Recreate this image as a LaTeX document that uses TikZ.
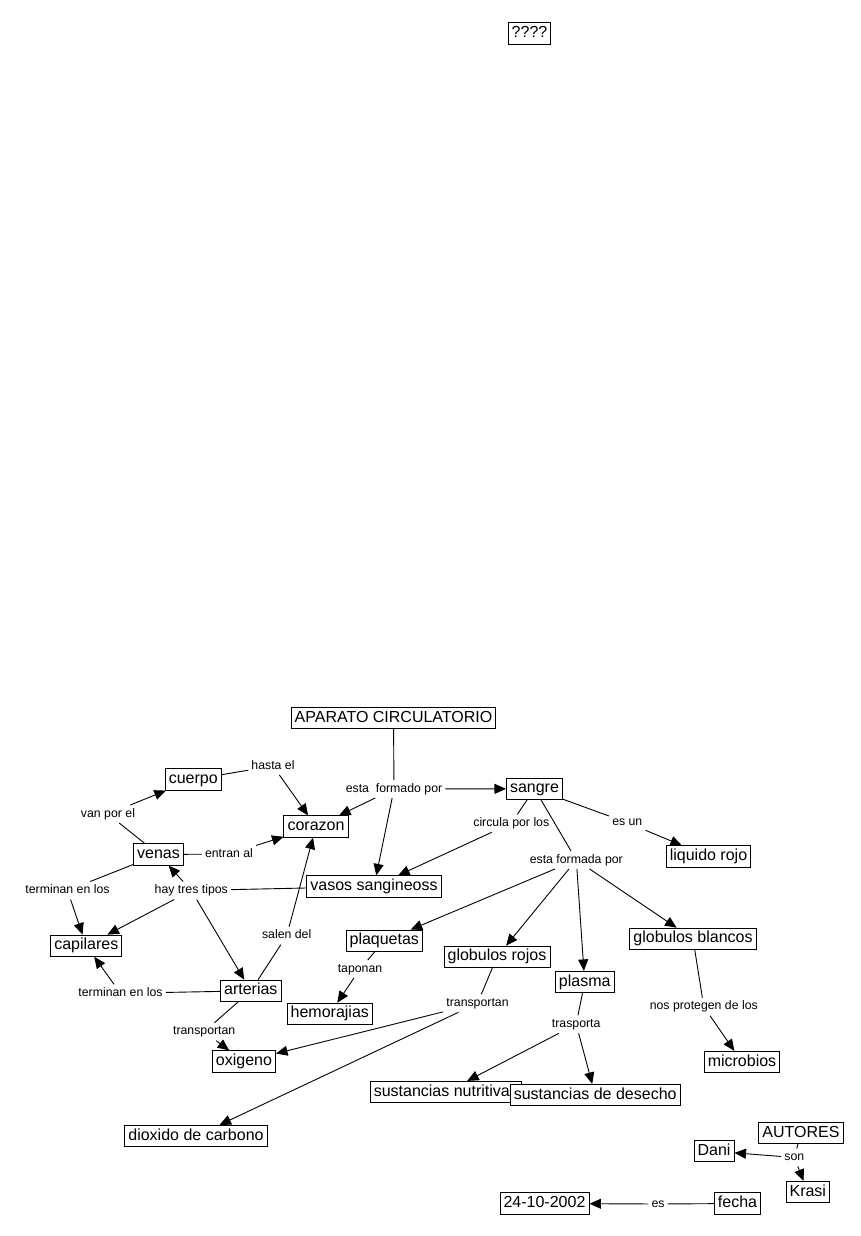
\documentclass[tikz,border=0pt]{standalone}
\usepackage{fontspec}
\setmainfont{Liberation Sans}
\usetikzlibrary{arrows.meta}
\begin{document}
\begin{tikzpicture}[x=1pt,y=-1pt,
  concept/.style={draw, fill=white, line width=0.9pt, inner xsep=3.6pt, inner ysep=3pt,
    font=\fontsize{16}{18}\selectfont, text height=11.8pt, text depth=3.5pt},
  lab/.style={inner xsep=3pt, inner ysep=3pt, font=\fontsize{12.3}{14}\selectfont,
    text height=9pt, text depth=2.6pt},
  conn/.style={line width=0.9pt},
  arr/.style={line width=0.9pt, -{Triangle[length=11.5pt,width=10pt]}}]
\useasboundingbox (0,0) rectangle (861,1236);
% concepts
\node[concept] (q) at (529.5,33.5) {????};
\node[concept] (aparato) at (393.5,718) {APARATO CIRCULATORIO};
\node[concept] (sangre) at (534.5,788.8) {sangre};
\node[concept] (cuerpo) at (193.3,779.5) {cuerpo};
\node[concept] (corazon) at (316,826.5) {corazon};
\node[concept] (venas) at (158.5,854.5) {venas};
\node[concept] (liquido) at (708.5,856.5) {liquido rojo};
\node[concept] (vasos) at (374,886.5) {vasos sangineoss};
\node[concept] (capilares) at (86.3,945.7) {capilares};
\node[concept] (plaquetas) at (384.3,940.7) {plaquetas};
\node[concept] (gblancos) at (693,938.8) {globulos blancos};
\node[concept] (grojos) at (497,956.8) {globulos rojos};
\node[concept] (plasma) at (584.7,982) {plasma};
\node[concept] (arterias) at (250.8,990.8) {arterias};
\node[concept] (hemorajias) at (329.8,1013.8) {hemorajias};
\node[concept] (oxigeno) at (244,1061.5) {oxigeno};
\node[concept] (microbios) at (742,1062) {microbios};
\node[concept] (nutritivas) at (445.8,1092) {sustancias nutritivas};
\node[concept] (desecho) at (595.2,1095) {sustancias de desecho};
\node[concept] (dioxido) at (196,1136) {dioxido de carbono};
\node[concept] (fecha24) at (544.5,1203.5) {24-10-2002};
\node[concept] (fecha) at (737.5,1203.5) {fecha};
\node[concept] (autores) at (801,1133) {AUTORES};
\node[concept] (dani) at (714,1151.2) {Dani};
\node[concept] (krasi) at (807.8,1192) {Krasi};
% labels
\node[lab] (lformado) at (394,789) {esta~~formado por};
\node[lab] (lhasta) at (273,766) {hasta el};
\node[lab] (lvan) at (108,814) {van por el};
\node[lab] (lentran) at (229,854) {entran al};
\node[lab] (lcircula) at (511.3,823.3) {circula por los};
\node[lab] (lesun) at (627.3,822.7) {es un};
\node[lab] (lformada) at (576.3,860) {esta formada por};
\node[lab] (lterma) at (67.5,890.5) {terminan en los};
\node[lab] (lhay) at (191.3,890.5) {hay tres tipos};
\node[lab] (lsalen) at (286.7,935.7) {salen del};
\node[lab] (ltaponan) at (360,969) {taponan};
\node[lab] (ltermb) at (120.5,993.3) {terminan en los};
\node[lab] (ltransa) at (204.2,1031.7) {transportan};
\node[lab] (ltransb) at (477.5,1003.3) {transportan};
\node[lab] (ltrasporta) at (576.2,1024.3) {trasporta};
\node[lab] (lprotegen) at (703.8,1006.7) {nos protegen de los};
\node[lab] (lson) at (794.3,1157.5) {son};
\node[lab] (les) at (658,1204) {es};
% connectors
\draw[conn] (aparato) -- (lformado);
\draw[arr] (lformado) -- (corazon);
\draw[arr] (lformado) -- (vasos);
\draw[arr] (lformado) -- (sangre);
\draw[conn] (cuerpo) -- (lhasta);
\draw[arr] (lhasta) -- (corazon);
\draw[conn] (venas) -- (lvan);
\draw[arr] (lvan) -- (cuerpo);
\draw[conn] (venas) -- (lentran);
\draw[arr] (lentran) -- (corazon);
\draw[conn] (venas) -- (lterma);
\draw[arr] (lterma) -- (capilares);
\draw[conn] (vasos) -- (lhay);
\draw[arr] (lhay) -- (venas);
\draw[arr] (lhay) -- (capilares);
\draw[arr] (lhay) -- (arterias);
\draw[conn] (arterias) -- (lsalen);
\draw[arr] (lsalen) -- (corazon);
\draw[conn] (arterias) -- (ltermb);
\draw[arr] (ltermb) -- (capilares);
\draw[conn] (arterias) -- (ltransa);
\draw[arr] (ltransa) -- (oxigeno);
\draw[conn] (sangre) -- (lcircula);
\draw[arr] (lcircula) -- (vasos);
\draw[conn] (sangre) -- (lesun);
\draw[arr] (lesun) -- (liquido);
\draw[conn] (sangre) -- (lformada);
\draw[arr] (lformada) -- (plaquetas);
\draw[arr] (lformada) -- (grojos);
\draw[arr] (lformada) -- (plasma);
\draw[arr] (lformada) -- (gblancos);
\draw[conn] (plaquetas) -- (ltaponan);
\draw[arr] (ltaponan) -- (hemorajias);
\draw[conn] (grojos) -- (ltransb);
\draw[arr] (ltransb) -- (oxigeno);
\draw[arr] (ltransb) -- (dioxido);
\draw[conn] (plasma) -- (ltrasporta);
\draw[arr] (ltrasporta) -- (nutritivas);
\draw[arr] (ltrasporta) -- (desecho);
\draw[conn] (gblancos) -- (lprotegen);
\draw[arr] (lprotegen) -- (microbios);
\draw[conn] (autores) -- (lson);
\draw[arr] (lson) -- (dani);
\draw[arr] (lson) -- (krasi);
\draw[conn] (fecha) -- (les);
\draw[arr] (les) -- (fecha24);
% redraw overlapping box on top
\node[concept] at (desecho) {sustancias de desecho};
\end{tikzpicture}
\end{document}
